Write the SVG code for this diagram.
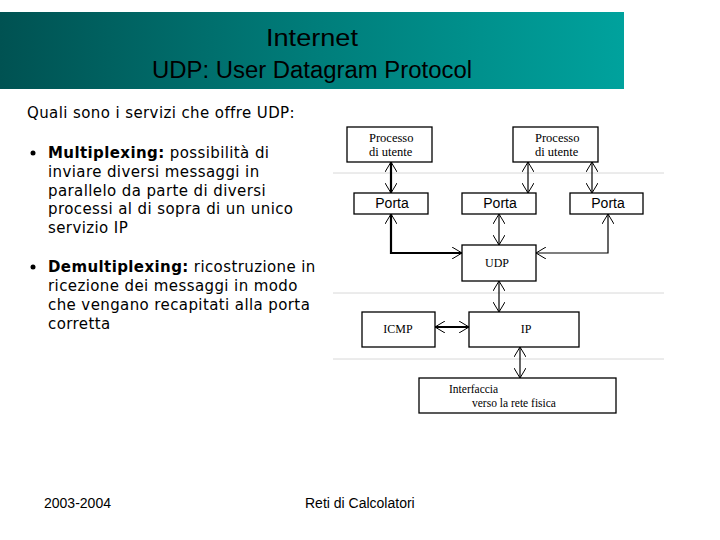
<svg xmlns="http://www.w3.org/2000/svg" width="720" height="540" viewBox="0 0 720 540">
<style>
.box{fill:#fff;stroke:#000;stroke-width:1.3}
.ser{font-family:"Liberation Serif",serif;fill:#000}
.san{font-family:"Liberation Sans",Arial,sans-serif;fill:#000}
.body{font-family:"DejaVu Sans",Verdana,sans-serif;font-size:15px;letter-spacing:0.4px;fill:#000}
.sep{stroke:#d8d8d8;stroke-width:1}
.c{fill:none;stroke:#000;stroke-width:1.2;marker-start:url(#ah);marker-end:url(#ah)}
.t{stroke-width:2.2}
</style>
<defs>
<linearGradient id="hdr" x1="0" y1="0" x2="1" y2="0">
<stop offset="0" stop-color="#005252"/>
<stop offset="0.5" stop-color="#007d7a"/>
<stop offset="1" stop-color="#00a29d"/>
</linearGradient>
<marker id="ah" viewBox="0 0 10 12" refX="10" refY="6" markerWidth="10" markerHeight="12" markerUnits="userSpaceOnUse" orient="auto-start-reverse">
<path d="M0,0 L10,6 L0,12" fill="none" stroke="#000" stroke-width="1"/>
</marker>
</defs>
<rect width="720" height="540" fill="#fff"/>
<g id="header">
<rect x="0" y="12" width="624" height="77" fill="url(#hdr)"/>
<text x="266" y="46" class="san" font-size="23" textLength="92" lengthAdjust="spacingAndGlyphs">Internet</text>
<text x="152" y="78" class="san" font-size="23" textLength="320" lengthAdjust="spacingAndGlyphs">UDP: User Datagram Protocol</text>
</g>
<g id="text">
<text x="27" y="118" class="body">Quali sono i servizi che offre UDP:</text>
<circle cx="33" cy="153" r="2.5" fill="#000"/>
<text x="48" y="158" class="body"><tspan font-weight="bold">Multiplexing:</tspan> possibilità di</text>
<text x="48" y="177" class="body">inviare diversi messaggi in</text>
<text x="48" y="196" class="body">parallelo da parte di diversi</text>
<text x="48" y="214" class="body">processi al di sopra di un unico</text>
<text x="48" y="233" class="body">servizio IP</text>
<circle cx="33" cy="267" r="2.5" fill="#000"/>
<text x="48" y="272" class="body"><tspan font-weight="bold">Demultiplexing:</tspan> ricostruzione in</text>
<text x="48" y="291" class="body">ricezione dei messaggi in modo</text>
<text x="48" y="310" class="body">che vengano recapitati alla porta</text>
<text x="48" y="329" class="body">corretta</text>
</g>
<g id="separators">
<line x1="333" y1="173" x2="664" y2="173" class="sep"/>
<line x1="333" y1="293" x2="664" y2="293" class="sep"/>
<line x1="333" y1="359" x2="664" y2="359" class="sep"/>
</g>
<g id="connectors">
<line x1="391" y1="162" x2="391" y2="193" class="c t"/>
<line x1="528" y1="162" x2="528" y2="193" class="c"/>
<line x1="592" y1="162" x2="592" y2="193" class="c"/>
<polyline points="391,214 391,253 462,253" class="c t"/>
<line x1="499" y1="214" x2="499" y2="245" class="c"/>
<polyline points="608,214 608,253 536,253" class="c"/>
<line x1="499" y1="281" x2="499" y2="312" class="c"/>
<line x1="435" y1="327" x2="469" y2="327" class="c t"/>
<line x1="520" y1="347" x2="520" y2="378" class="c"/>
</g>
<g id="proc1"><rect x="347" y="127" width="85" height="35" class="box"/>
<text x="369" y="142" class="ser" font-size="12.5">Processo</text>
<text x="369" y="156" class="ser" font-size="12.5">di utente</text></g>
<g id="proc2"><rect x="513" y="127" width="85" height="35" class="box"/>
<text x="535" y="142" class="ser" font-size="12.5">Processo</text>
<text x="535" y="156" class="ser" font-size="12.5">di utente</text></g>
<g id="porta1"><rect x="354" y="193" width="74" height="21" class="box"/>
<text x="392" y="208" text-anchor="middle" class="san" font-size="14">Porta</text></g>
<g id="porta2"><rect x="462" y="193" width="74" height="21" class="box"/>
<text x="500" y="208" text-anchor="middle" class="san" font-size="14">Porta</text></g>
<g id="porta3"><rect x="570" y="193" width="73" height="21" class="box"/>
<text x="608" y="208" text-anchor="middle" class="san" font-size="14">Porta</text></g>
<g id="udp"><rect x="462" y="245" width="74" height="36" class="box"/>
<text x="497" y="267" text-anchor="middle" class="ser" font-size="12">UDP</text></g>
<g id="icmp"><rect x="362" y="312" width="73" height="35" class="box"/>
<text x="398" y="333" text-anchor="middle" class="ser" font-size="12">ICMP</text></g>
<g id="ip"><rect x="469" y="312" width="110" height="35" class="box"/>
<text x="526" y="333" text-anchor="middle" class="ser" font-size="12">IP</text></g>
<g id="iface"><rect x="419" y="378" width="197" height="35" class="box"/>
<text x="449" y="393" class="ser" font-size="11.5">Interfaccia</text>
<text x="472" y="407" class="ser" font-size="11.5">verso la rete fisica</text></g>
<g id="footer">
<text x="44" y="508" class="san" font-size="14">2003-2004</text>
<text x="305" y="508" class="san" font-size="14">Reti di Calcolatori</text>
</g>
</svg>
